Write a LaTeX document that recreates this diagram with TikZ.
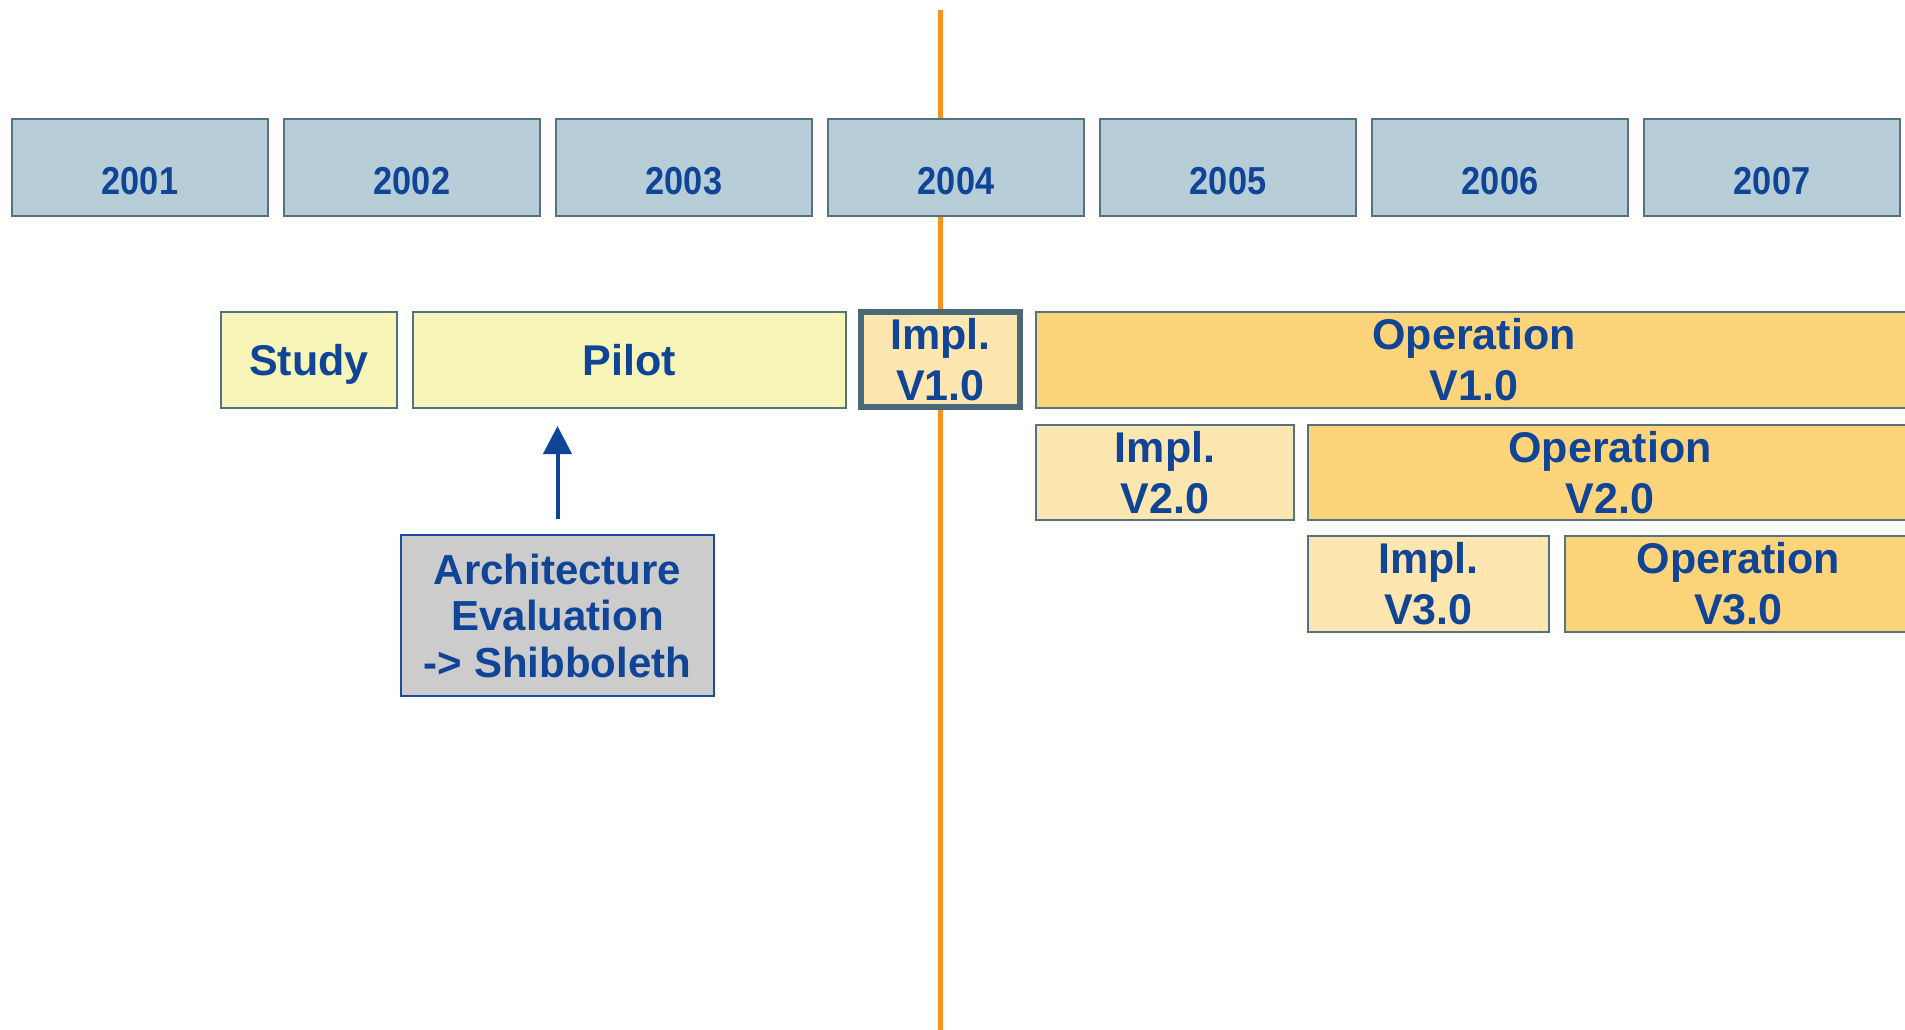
\documentclass[tikz,border=0pt]{standalone}
\usepackage{fontspec}
\setmainfont{Liberation Sans}
\newfontfamily\yearfont[FakeStretch=0.88]{Liberation Sans}
\usetikzlibrary{arrows.meta}
\definecolor{yearfill}{HTML}{B7CDD8}
\definecolor{boxline}{HTML}{56727F}
\definecolor{txtblue}{HTML}{0F4496}
\definecolor{studyfill}{HTML}{F7F5B8}
\definecolor{implfill}{HTML}{FDE6B0}
\definecolor{opfill}{HTML}{FED47A}
\definecolor{nowline}{HTML}{F7931D}
\definecolor{archfill}{HTML}{CCCCCC}
\definecolor{archline}{HTML}{1C4C9C}
\definecolor{implline}{HTML}{4A6878}
\tikzset{
  base/.style={draw=boxline, line width=2pt, inner sep=0pt, rectangle,
    text=txtblue, align=center, font=\fontsize{43}{51}\selectfont\bfseries},
  yearbox/.style={base, fill=yearfill, minimum width=256pt, minimum height=97pt,
    font=\yearfont\fontsize{39}{46}\selectfont\bfseries, text height=54pt, text depth=0pt},
  studybox/.style={base, fill=studyfill},
  implbox/.style={base, fill=implfill},
  opbox/.style={base, fill=opfill},
  curbox/.style={base, fill=implfill, draw=implline, line width=6pt},
  archbox/.style={base, fill=archfill, draw=archline, line width=2.5pt,
    font=\fontsize{42}{46.5}\selectfont\bfseries},
  arr/.style={draw=txtblue, line width=4pt, -{Triangle[width=28pt,length=28pt]}},
  nowstyle/.style={draw=nowline, line width=5pt}
}
\begin{document}
\begin{tikzpicture}[x=1pt,y=-1pt]
\useasboundingbox (0,0) rectangle (1905,1030);
\path[fill=white] (0,0) rectangle (1905,1030);
% current-time line
\coordinate (ltop) at (940,10);
\coordinate (lbot) at (940,1030);
\draw[nowstyle] (ltop) -- (lbot);
% year boxes
\foreach \i/\yr in {0/2001,1/2002,2/2003,3/2004,4/2005,5/2006,6/2007}
  \node[yearbox] (y\yr) at ({140+272*\i},167.5) {\yr};
% row 1
\node[studybox, minimum width=176pt, minimum height=96pt, text depth=0pt] (study) at (309,360) {Study};
\node[studybox, minimum width=433pt, minimum height=96pt] (pilot) at (629.5,360) {Pilot};
\node[curbox, minimum width=159pt, minimum height=95pt] (impl1) at (940.5,359.5) {Impl.\\V1.0};
\node[opbox, minimum width=876pt, minimum height=96pt] (op1) at (1474,360) {Operation\\V1.0};
% row 2
\node[implbox, minimum width=258pt, minimum height=95pt] (impl2) at (1165,472.5) {Impl.\\V2.0};
\node[opbox, minimum width=604pt, minimum height=95pt] (op2) at (1610,472.5) {Operation\\V2.0};
% row 3
\node[implbox, minimum width=241pt, minimum height=96pt] (impl3) at (1428.5,584) {Impl.\\V3.0};
\node[opbox, minimum width=347pt, minimum height=96pt] (op3) at (1738.5,584) {Operation\\V3.0};
% architecture evaluation
\node[archbox, minimum width=313pt, minimum height=161pt] (arch) at (557.5,615.5)
  {Architecture\\Evaluation\\-> Shibboleth};
\draw[arr] ([yshift=15pt]arch.north) -- ([yshift=-17pt]pilot.south -| arch.north);
\end{tikzpicture}
\end{document}
